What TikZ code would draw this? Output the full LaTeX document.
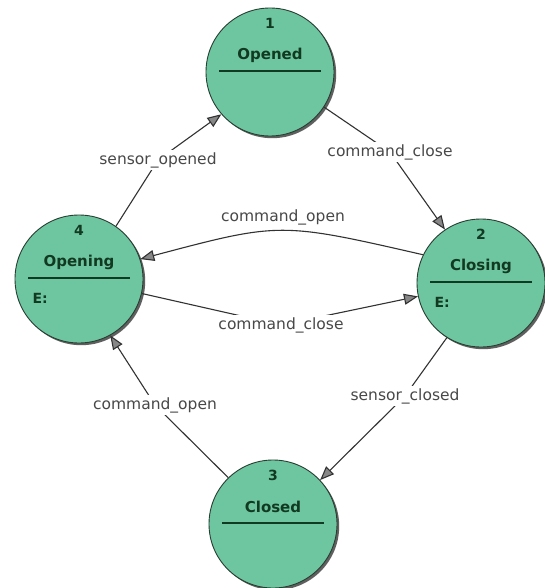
\documentclass[tikz,border=0pt]{standalone}
\usepackage{fontspec}
\setmainfont{DejaVu Sans}
\usetikzlibrary{arrows.meta}

\definecolor{statefill}{RGB}{110,198,160}
\definecolor{stateline}{RGB}{40,62,50}
\definecolor{statetext}{RGB}{18,58,34}
\definecolor{shadowgray}{RGB}{95,95,95}
\definecolor{edgegray}{RGB}{50,50,50}
\definecolor{tipgray}{RGB}{135,135,135}
\definecolor{labelgray}{RGB}{72,72,72}

\tikzset{
  statecircle/.style={circle, minimum size=128pt, inner sep=0pt, fill=statefill,
    draw=stateline, line width=0.9pt},
  stateshadow/.style={circle, minimum size=128pt, inner sep=0pt, fill=shadowgray},
  statenum/.style={text=statetext, font=\fontsize{14}{16}\selectfont\bfseries},
  statename/.style={text=statetext, font=\fontsize{15}{18}\selectfont\bfseries},
  entrytxt/.style={text=statetext, anchor=west, font=\fontsize{14}{16}\selectfont\bfseries},
  divider/.style={draw=statetext, line width=1.1pt},
  edge/.style={draw=edgegray, line width=1.1pt,
    -{Triangle[length=14pt,width=11pt,fill=tipgray]}},
  lbl/.style={fill=white, inner sep=2pt, text=labelgray,
    font=\fontsize{15.5}{18}\selectfont}
}

% one state: shadow, disc, number, name, divider line
\newcommand{\mkstate}[5]{%
  \node[stateshadow] at ($(#2)+(2.2,2.2)$) {};
  \node[statecircle] (#1) at (#2) {};
  \node[statenum]  at ($(#1.center)+(0,-49)$) {#3};
  \node[statename] at ($(#1.center)+(0,-17)$) {#4};
  \draw[divider] ($(#1.center)+(-51,-1)$) -- ($(#1.center)+(51,-1)$);
  #5
}

\usetikzlibrary{calc}

\begin{document}
\begin{tikzpicture}[x=1pt,y=-1pt]
  \useasboundingbox[fill=white] (0,0) rectangle (545,588);

  \mkstate{sOpened}{270,72}{1}{Opened}{}
  \mkstate{sClosing}{481,283}{2}{Closing}{\node[entrytxt] at ($(sClosing.center)+(-50,19)$) {E:};}
  \mkstate{sClosed}{273,524}{3}{Closed}{}
  \mkstate{sOpening}{79,279}{4}{Opening}{\node[entrytxt] at ($(sOpening.center)+(-50,19)$) {E:};}

  % transitions
  \draw[edge] (sOpening.55) -- (158,160) node[lbl] {sensor\_opened} -- (sOpened.221);
  \draw[edge] (sOpened.-33) -- (390,152) node[lbl] {command\_close} -- (sClosing.124);
  \draw[edge] (sClosing.154) .. controls (280,222) .. (sOpening.18);
  \node[lbl] at (283,217) {command\_open};
  \draw[edge] (sOpening.-13) -- (281,325) node[lbl] {command\_close} -- (sClosing.192);
  \draw[edge] (sClosing.238) -- (405,396) node[lbl] {sensor\_closed} -- (sClosed.43);
  \draw[edge] (sClosed.134) -- (155,405) node[lbl] {command\_open} -- (sOpening.-61);
\end{tikzpicture}
\end{document}
